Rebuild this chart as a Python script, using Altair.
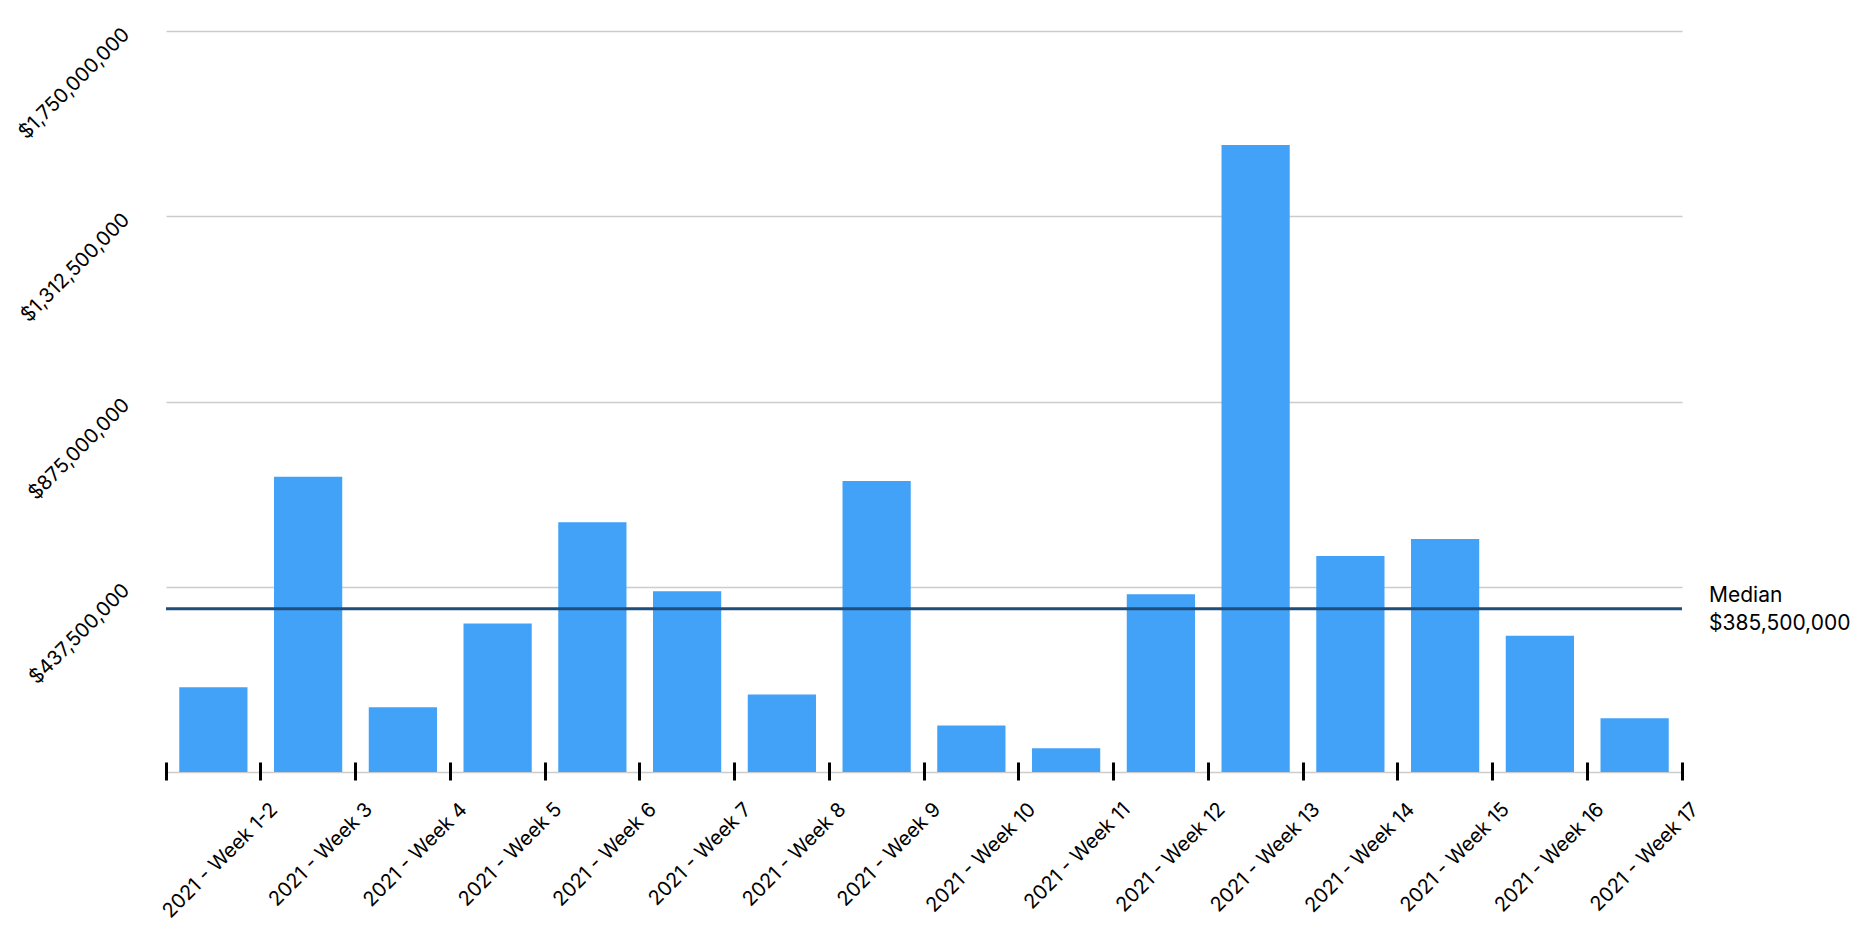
import altair as alt
import pandas as pd

weeks = [
    "2021 - Week 1-2", "2021 - Week 3", "2021 - Week 4", "2021 - Week 5",
    "2021 - Week 6", "2021 - Week 7", "2021 - Week 8", "2021 - Week 9",
    "2021 - Week 10", "2021 - Week 11", "2021 - Week 12", "2021 - Week 13",
    "2021 - Week 14", "2021 - Week 15", "2021 - Week 16", "2021 - Week 17",
]
amounts = [
    200_000_000, 697_000_000, 153_000_000, 351_000_000,
    590_000_000, 427_000_000, 183_000_000, 687_000_000,
    110_000_000, 56_000_000, 420_000_000, 1_481_000_000,
    510_000_000, 550_000_000, 322_000_000, 127_000_000,
]
y_ticks = [0, 437_500_000, 875_000_000, 1_312_500_000, 1_750_000_000]
median_value = 385_500_000
median_title = "Median"

FONT = "Inter"
W, H = 1516, 741

df = pd.DataFrame({"week": weeks, "amount": amounts})
med = pd.DataFrame({
    "median": [median_value],
    "label": [f"{median_title}\n${median_value:,.0f}"],
})

x_enc = alt.X(
    "week:N",
    sort=weeks,
    scale=alt.Scale(padding=0),
    axis=alt.Axis(
        title=None,
        bandPosition=1,
        tickExtra=True,
        labelAngle=-45,
        labelAlign="right",
        labelBaseline="middle",
        labelOffset=61,
        labelPadding=26,
        tickSize=18,
        tickWidth=3,
        tickColor="#000000",
        domain=False,
        offset=-10,
        grid=False,
        labelFontSize=20,
        labelColor="#000000",
        labelFont=FONT,
    ),
)

y_enc = alt.Y(
    "amount:Q",
    scale=alt.Scale(domain=[0, 1_750_000_000], nice=False, zero=True),
    axis=alt.Axis(
        title=None,
        values=y_ticks,
        format="$,.0f",
        labelExpr="datum.value == 0 ? '' : datum.label",
        labelAngle=-45,
        labelAlign="right",
        labelBaseline="middle",
        labelPadding=40,
        ticks=False,
        domain=False,
        gridColor="#cccccc",
        gridWidth=1.3,
        labelFontSize=20,
        labelColor="#000000",
        labelFont=FONT,
    ),
)

bars = alt.Chart(df).mark_bar(
    color="#42a2f8", width=alt.RelativeBandSize(0.72)
).encode(x=x_enc, y=y_enc)

rule = alt.Chart(med).mark_rule(color="#1d4e7c", strokeWidth=3).encode(
    y=alt.Y("median:Q")
)

text = alt.Chart(med).mark_text(
    align="left", baseline="middle", dx=27, dy=-13, fontSize=21, lineHeight=28,
    lineBreak="\n", font=FONT, color="#000000",
).encode(
    x=alt.value(W),
    y=alt.Y("median:Q"),
    text="label:N",
)

chart = (
    alt.layer(bars, rule, text)
    .properties(
        width=W,
        height=H,
        autosize=alt.AutoSizeParams(type="none"),
        padding={"left": 158, "top": 23, "right": 180, "bottom": 150},
    )
    .configure(font=FONT)
    .configure_view(strokeWidth=0, stroke="transparent")
)

chart.save("out.html", embed_options={"renderer": "svg", "actions": False})
